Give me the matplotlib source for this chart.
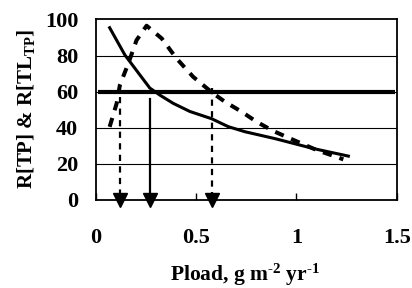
import matplotlib
matplotlib.use("Agg")
import matplotlib.pyplot as plt

plt.rcParams['font.family'] = ['Liberation Serif', 'DejaVu Serif']
plt.rcParams['font.weight'] = 'bold'
plt.rcParams['mathtext.fontset'] = 'custom'
plt.rcParams['mathtext.rm'] = 'Liberation Serif:bold'
plt.rcParams['mathtext.it'] = 'Liberation Serif:bold'
plt.rcParams['mathtext.bf'] = 'Liberation Serif:bold'

# R[TP] curve (solid)
tp_x = [0.07, 0.146, 0.221, 0.27, 0.32, 0.387, 0.47, 0.578, 0.661, 0.744, 0.893, 1.084, 1.259]
tp_y = [95.4, 80.3, 69.2, 62.0, 58.1, 53.5, 49.0, 45.0, 40.6, 37.8, 34.0, 28.5, 24.3]
# R[TL_TP] curve (dashed)
tl_x = [0.07, 0.105, 0.121, 0.163, 0.204, 0.254, 0.329, 0.403, 0.486, 0.58, 0.644, 0.727, 0.802, 0.885, 0.968, 1.10, 1.234]
tl_y = [40.5, 53.5, 63.6, 75.6, 88.5, 96.5, 89.5, 78.4, 68.2, 59.5, 54.4, 48.9, 43.3, 38.2, 34.1, 27.7, 22.5]
threshold = 60
# vertical arrows
arrow_x = [0.12, 0.27, 0.58]
arrow_top = [57, 56, 62]
arrow_style = ['--', '-', '--']

xticks = [0, 0.5, 1, 1.5]
xticklabels = ['0', '0.5', '1', '1.5']
yticks = [0, 20, 40, 60, 80, 100]

fig = plt.figure(figsize=(4.12, 2.88), dpi=100)
ax = fig.add_axes([0.232, 0.3056, 0.731, 0.627])

for y in yticks[1:-1]:
    ax.axhline(y, color='black', lw=0.8, zorder=1)

ax.plot(tp_x, tp_y, color='black', lw=2.2, zorder=3, solid_joinstyle='round')
ax.plot(tl_x, tl_y, color='black', lw=2.9, ls=(0, (2.3, 2.0)), zorder=3)
ax.hlines(threshold, 0.01, 1.49, color='black', lw=3.0, zorder=4)

for x, top, st in zip(arrow_x, arrow_top, arrow_style):
    ls = (0, (2.8, 2.4)) if st == '--' else '-'
    ax.plot([x, x], [top, 3], color='black', lw=1.6, ls=ls, zorder=4)
    ax.plot([x], [0], marker='v', color='black', markersize=10, clip_on=False, zorder=5)

ax.set_xlim(0, 1.5)
ax.set_ylim(0, 100)
ax.set_xticks(xticks)
ax.set_xticklabels(xticklabels)
ax.set_yticks(yticks)
ax.tick_params(axis='x', direction='in', length=5, width=1, pad=20, labelsize=16)
ax.tick_params(axis='y', length=0, pad=12.5, labelsize=16)
for s in ax.spines.values():
    s.set_linewidth(1.3)

fig.text(245 / 412, 1 - 281 / 288, 'Pload, g m$^{\u20102}$ yr$^{\u20101}$',
         fontsize=15.5, fontweight='bold', ha='center', va='baseline')
fig.text(26.5 / 412, 1 - 109 / 288, r'R[TP] & R[TL$_{\mathrm{TP}}$]',
         fontsize=15, fontweight='bold', rotation=90, ha='center', va='center')

fig.savefig('out.png', dpi=100)
